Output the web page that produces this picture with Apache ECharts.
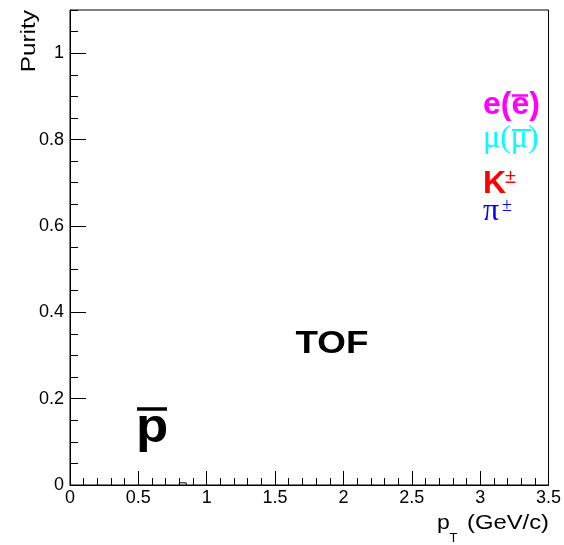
<!DOCTYPE html>
<html>
<head>
<meta charset="utf-8">
<title>Purity vs pT (TOF)</title>
<script src="https://cdn.jsdelivr.net/npm/echarts@6/dist/echarts.min.js"></script>
<style>
  html, body { margin: 0; padding: 0; background: #fff; }
  #chart { width: 564px; height: 545px; }
</style>
</head>
<body>
<div id="chart"></div>
<script>
// Axis ranges and tick spacing
const xRange = [0, 3.5];
const yRange = [0, 1.1];
const xMajorStep = 0.5;
const yMajorStep = 0.2;
const yMinorStep = 0.05;

// Histogram content: bin edges in pT (GeV/c) and purity per bin
const binLow = [0.8];
const binHigh = [0.85];
const purity = [0.005];

// Annotation texts
const detectorLabel = 'TOF';
const particleLabel = 'p';
const axisTitleX = ['p', 'T', '(GeV/c)'];
const axisTitleY = 'Purity';

const chart = echarts.init(document.getElementById('chart'), null, { renderer: 'canvas' });

const sans = '"Liberation Sans", Arial, Helvetica, sans-serif';
const serif = '"Liberation Serif", "Times New Roman", serif';

const binData = binLow.map((lo, i) => [lo, binHigh[i], purity[i]]);

function txt(x, y, text, font, fill, opts) {
  return Object.assign({
    type: 'text', x: x, y: y, silent: true,
    style: { text: text, font: font, fill: fill, align: 'left', verticalAlign: 'middle' }
  }, opts || {});
}
function bar(x1, x2, y, w, color) {
  return { type: 'line', silent: true, shape: { x1: x1, y1: y, x2: x2, y2: y },
           style: { stroke: color, lineWidth: w } };
}

const option = {
  animation: false,
  backgroundColor: '#ffffff',
  grid: { left: 70, right: 12, top: 10, bottom: 60, show: true, borderColor: '#000', borderWidth: 1 },
  xAxis: {
    type: 'value', min: xRange[0], max: xRange[1], interval: xMajorStep,
    axisLine: { lineStyle: { color: '#000', width: 1 } },
    axisTick: { inside: true, length: 14, lineStyle: { color: '#000', width: 1 } },
    minorTick: { show: true, splitNumber: 5, length: 7, lineStyle: { color: '#000', width: 1 } },
    splitLine: { show: false }, minorSplitLine: { show: false },
    axisLabel: { color: '#000', fontSize: 18, fontFamily: sans, margin: 4 }
  },
  yAxis: [
    {
      type: 'value', min: yRange[0], max: yRange[1], interval: yMajorStep,
      axisLine: { lineStyle: { color: '#000', width: 1 } },
      axisTick: { inside: true, length: 16, lineStyle: { color: '#000', width: 1 } },
      splitLine: { show: false },
      axisLabel: { color: '#000', fontSize: 18, fontFamily: sans, margin: 6, showMaxLabel: false }
    },
    {
      type: 'value', min: yRange[0], max: yRange[1], interval: yMinorStep, position: 'left',
      axisLine: { show: false },
      axisTick: { inside: true, length: 8, lineStyle: { color: '#000', width: 1 } },
      splitLine: { show: false },
      axisLabel: { show: false }
    }
  ],
  series: [{
    type: 'custom',
    xAxisIndex: 0, yAxisIndex: 0,
    data: binData,
    encode: { x: [0, 1], y: 2 },
    renderItem: function (params, api) {
      const lo = api.value(0), hi = api.value(1), v = api.value(2);
      const pts = [api.coord([lo, 0]), api.coord([lo, v]), api.coord([hi, v]), api.coord([hi, 0])];
      return { type: 'polyline', shape: { points: pts }, style: { stroke: '#000', lineWidth: 1, fill: null } };
    }
  }],
  graphic: [
    // axis titles
    txt(29, 10, axisTitleY, '20px ' + sans, '#000',
        { rotation: Math.PI / 2, scaleX: 1.22, style: { text: axisTitleY, font: '20px ' + sans, fill: '#000', align: 'right', verticalAlign: 'middle' } }),
    txt(437, 523, axisTitleX[0], '20px ' + sans, '#000', { scaleX: 1.15 }),
    txt(449.5, 538, axisTitleX[1], '13px ' + sans, '#000'),
    txt(549, 523, axisTitleX[2], '20px ' + sans, '#000',
        { scaleX: 1.19, style: { text: axisTitleX[2], font: '20px ' + sans, fill: '#000', align: 'right', verticalAlign: 'middle' } }),

    // detector and particle annotations
    txt(332, 344, detectorLabel, 'bold 32px ' + sans, '#000',
        { scaleX: 1.15, style: { text: detectorLabel, font: 'bold 32px ' + sans, fill: '#000', align: 'center', verticalAlign: 'middle' } }),
    txt(136, 429, particleLabel, 'bold 48px ' + sans, '#000', { scaleX: 1.1 }),
    bar(137, 167, 409, 3.5, '#000'),

    // species legend
    txt(483, 105, 'e(e)', 'bold 32px ' + sans, '#ff00ff'),
    bar(512, 528, 95.5, 2.5, '#ff00ff'),
    txt(483, 138.5, 'μ(μ)', '32px ' + serif, '#00ffff'),
    bar(512, 531, 130, 2, '#00ffff'),
    txt(483, 184, 'K', 'bold 32px ' + sans, '#ff0000'),
    txt(505, 177, '±', '20px ' + sans, '#ff0000'),
    txt(483, 212, 'π', '32px ' + serif, '#0000ff'),
    txt(502, 206, '±', '18px ' + serif, '#0000ff')
  ]
};

chart.setOption(option);
</script>
</body>
</html>
